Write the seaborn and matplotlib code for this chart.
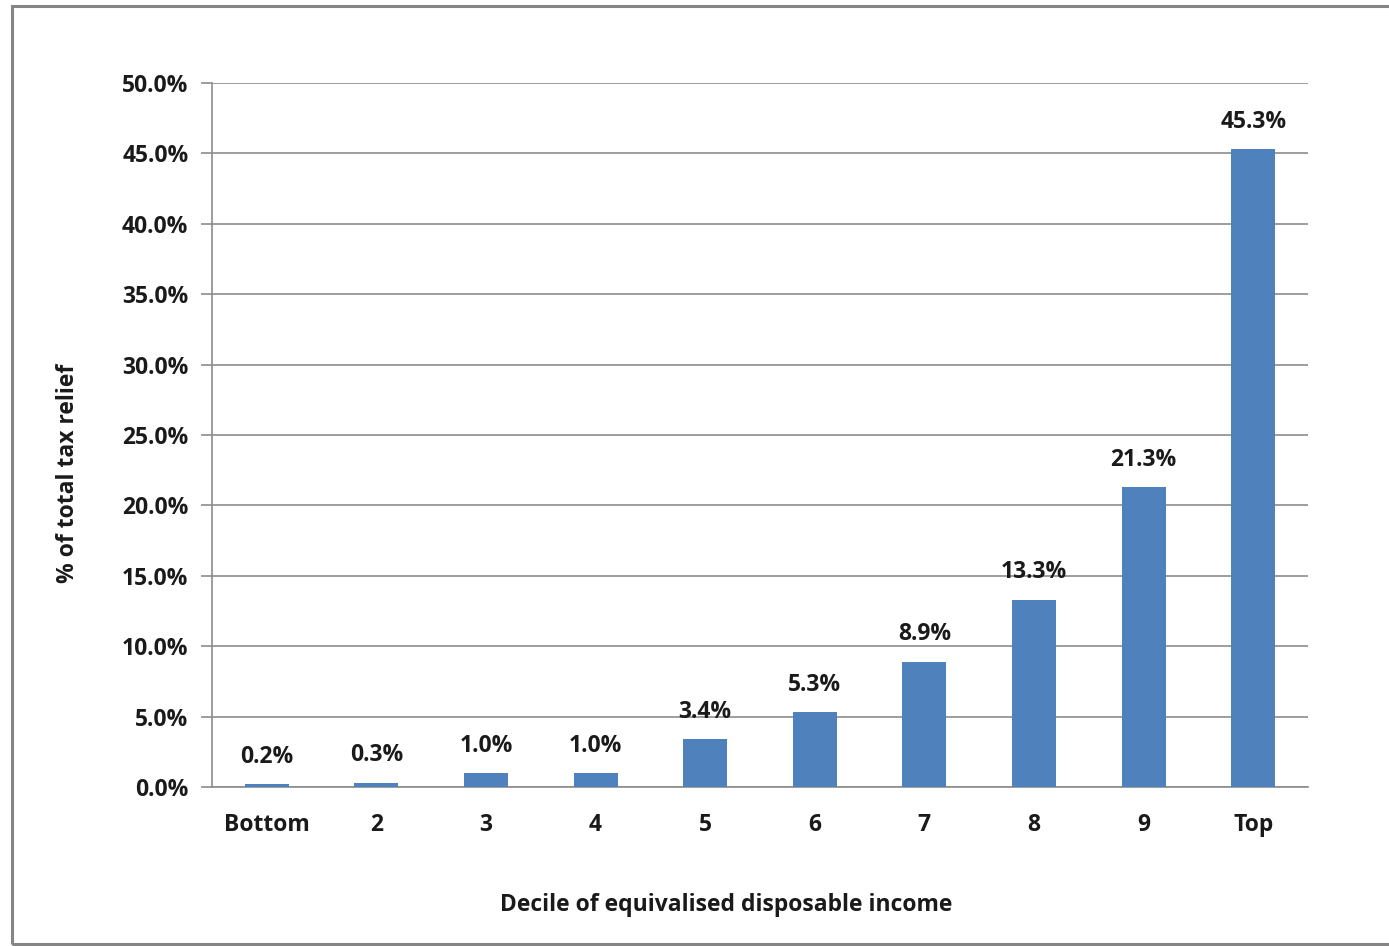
import matplotlib
matplotlib.use("Agg")
import matplotlib.pyplot as plt
import seaborn as sns
import pandas as pd
import numpy as np
from matplotlib.patches import Rectangle
from matplotlib.ticker import FuncFormatter, FixedLocator

categories = ["Bottom", "2", "3", "4", "5", "6", "7", "8", "9", "Top"]
values = [0.2, 0.3, 1.0, 1.0, 3.4, 5.3, 8.9, 13.3, 21.3, 45.3]
y_ticks = [0, 5, 10, 15, 20, 25, 30, 35, 40, 45, 50]

df = pd.DataFrame({"decile": categories, "share": values})

sns.set_theme(style="white")
plt.rcParams['font.family'] = ['Open Sans', 'DejaVu Sans']
plt.rcParams['font.weight'] = 'bold'

FS = 16.5
TXT = "#1a1a1a"

fig = plt.figure(figsize=(13.89, 9.46), dpi=100)
ax = fig.add_axes([212/1389, 1-787/946, (1308-212)/1389, (787-83)/946])

sns.barplot(data=df, x="decile", y="share", color="#4F81BD", saturation=1,
            width=0.4, ax=ax, zorder=3, linewidth=0, edgecolor="none")

ax.set_ylim(0, 50)
ax.set_xlim(-0.5, len(categories) - 0.5)
ax.yaxis.set_major_locator(FixedLocator(y_ticks))
ax.yaxis.set_major_formatter(FuncFormatter(lambda v, p: f"{v:.1f}%"))
ax.grid(axis="y", color="#8c8c8c", linewidth=1.2, zorder=0)
ax.set_axisbelow(True)

for s in ["top", "right"]:
    ax.spines[s].set_visible(False)
for s in ["left", "bottom"]:
    ax.spines[s].set_color("#8c8c8c")
    ax.spines[s].set_linewidth(1.2)

# x tick marks at category boundaries
ax.set_xticks(range(len(categories)))
ax.set_xticklabels(categories)
ax.tick_params(axis="x", which="major", length=0, pad=19, labelsize=FS)
ax.set_xticks(np.arange(-0.5, len(categories), 1.0), minor=True)
ax.tick_params(axis="x", which="minor", length=8, width=1.2, color="#8c8c8c", direction="out")
ax.tick_params(axis="y", length=8, width=1.2, color="#8c8c8c", direction="out", pad=9, labelsize=FS)
ax.tick_params(axis="both", bottom=True, left=True)
for lab in ax.get_xticklabels() + ax.get_yticklabels():
    lab.set_fontweight("bold")
    lab.set_color(TXT)

for c in ax.containers:
    ax.bar_label(c, labels=[f"{v:.1f}%" for v in values], padding=11,
                 fontsize=FS, fontweight="bold", color=TXT)

ax.set_xlabel("Decile of equivalised disposable income", fontsize=FS,
              fontweight="bold", color=TXT)
ax.xaxis.set_label_coords((726-212)/1096, (787-893)/704)
ax.set_ylabel("% of total tax relief", fontsize=FS, fontweight="bold", color=TXT)
ax.yaxis.set_label_coords((80-212)/1096, (787-473)/704)

# outer chart frame
fig.patches.append(Rectangle((12/1389, 1-944/946), 1.2, (944-6)/946,
                             transform=fig.transFigure, fill=False,
                             edgecolor="#858585", linewidth=2.2))

fig.savefig("out.png", dpi=100, facecolor="white")
